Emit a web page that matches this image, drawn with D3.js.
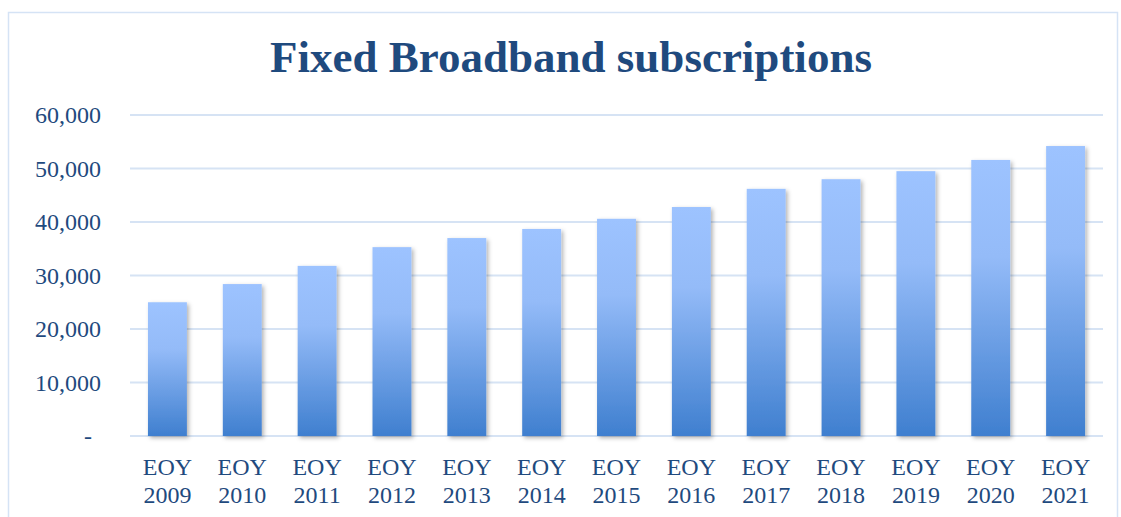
<!DOCTYPE html>
<html>
<head>
<meta charset="utf-8">
<script src="https://cdn.jsdelivr.net/npm/d3@7"></script>
<style>
  body { margin: 0; background: #fff; }
  svg { display: block; }
</style>
</head>
<body>
<div id="chart"></div>
<script>
const categories = ["EOY 2009", "EOY 2010", "EOY 2011", "EOY 2012", "EOY 2013", "EOY 2014", "EOY 2015",
                    "EOY 2016", "EOY 2017", "EOY 2018", "EOY 2019", "EOY 2020", "EOY 2021"];
const subscriptions = [25000, 28400, 31800, 35300, 37000, 38700, 40600, 42800, 46200, 48000, 49500, 51600, 54200];
const yTicks = [0, 10000, 20000, 30000, 40000, 50000, 60000];

const width = 1121;
const height = 517;
const margin = { top: 115, right: 18, bottom: 81, left: 130 };
const font = "'Liberation Serif', 'Times New Roman', serif";
const textColor = "#1f4a7e";

const svg = d3.select("#chart")
              .append("svg")
              .attr("width", width)
              .attr("height", height);

// gradient + shadow
const defs = svg.append("defs");
const grad = defs.append("linearGradient")
                 .attr("id", "barGrad")
                 .attr("x1", 0).attr("y1", 0).attr("x2", 0).attr("y2", 1);
grad.append("stop").attr("offset", "0%").attr("stop-color", "#9dc3ff");
grad.append("stop").attr("offset", "35%").attr("stop-color", "#94bbf8");
grad.append("stop").attr("offset", "100%").attr("stop-color", "#3f7fcf");

const shadow = defs.append("filter").attr("id", "shadow")
                   .attr("x", "-20%").attr("y", "-10%").attr("width", "150%").attr("height", "130%");
shadow.append("feDropShadow")
      .attr("dx", 2).attr("dy", 2).attr("stdDeviation", 2)
      .attr("flood-color", "#000").attr("flood-opacity", 0.3);

// frame
svg.append("rect")
   .attr("x", 8.5).attr("y", 12.5)
   .attr("width", width - 12).attr("height", height)
   .attr("fill", "none")
   .attr("stroke", "#d5e3f5")
   .attr("stroke-width", 1.5);

// title
svg.append("text")
   .attr("x", 571)
   .attr("y", 72)
   .attr("text-anchor", "middle")
   .attr("font-family", font)
   .attr("font-weight", "bold")
   .attr("font-size", 45)
   .attr("fill", textColor)
   .text("Fixed Broadband subscriptions");

const x = d3.scaleBand()
            .domain(categories)
            .range([margin.left, width - margin.right])
            .paddingInner(0.48)
            .paddingOuter(0.24);

const y = d3.scaleLinear()
            .domain([0, 60000])
            .range([height - margin.bottom, margin.top]);

// gridlines
svg.append("g")
   .selectAll("line")
   .data(yTicks)
   .join("line")
   .attr("x1", margin.left)
   .attr("x2", width - margin.right)
   .attr("y1", d => y(d))
   .attr("y2", d => y(d))
   .attr("stroke", "#d6e3f4")
   .attr("stroke-width", 2);

// y axis labels
const yAxis = svg.append("g")
   .attr("transform", `translate(${margin.left - 29}, 0)`)
   .call(d3.axisLeft(y).tickValues(yTicks).tickSize(0)
           .tickFormat(d => d === 0 ? "" : d3.format(",")(d)));
yAxis.select(".domain").remove();
yAxis.selectAll("text")
     .attr("font-family", font)
     .attr("font-size", 24)
     .attr("fill", textColor)
     .attr("x", 0)
     .attr("dy", "0.33em");
yAxis.selectAll(".tick")
     .filter(d => d === 0)
     .append("text")
     .attr("x", -13)
     .attr("dy", "0.33em")
     .attr("text-anchor", "middle")
     .attr("font-family", font)
     .attr("font-size", 24)
     .attr("fill", textColor)
     .text("-");

// bars
svg.append("g")
   .selectAll("rect")
   .data(subscriptions)
   .join("rect")
   .attr("x", (d, i) => x(categories[i]))
   .attr("y", d => y(d))
   .attr("width", x.bandwidth())
   .attr("height", d => y(0) - y(d))
   .attr("fill", "url(#barGrad)")
   .attr("filter", "url(#shadow)");

// x labels (two lines)
const xLab = svg.append("g")
   .selectAll("text")
   .data(categories)
   .join("text")
   .attr("x", d => x(d) + x.bandwidth() / 2)
   .attr("y", 475)
   .attr("text-anchor", "middle")
   .attr("font-family", font)
   .attr("font-size", 24)
   .attr("fill", textColor);
xLab.append("tspan").attr("x", d => x(d) + x.bandwidth() / 2).text(d => d.split(" ")[0]);
xLab.append("tspan").attr("x", d => x(d) + x.bandwidth() / 2).attr("dy", 28).text(d => d.split(" ")[1]);
</script>
</body>
</html>
